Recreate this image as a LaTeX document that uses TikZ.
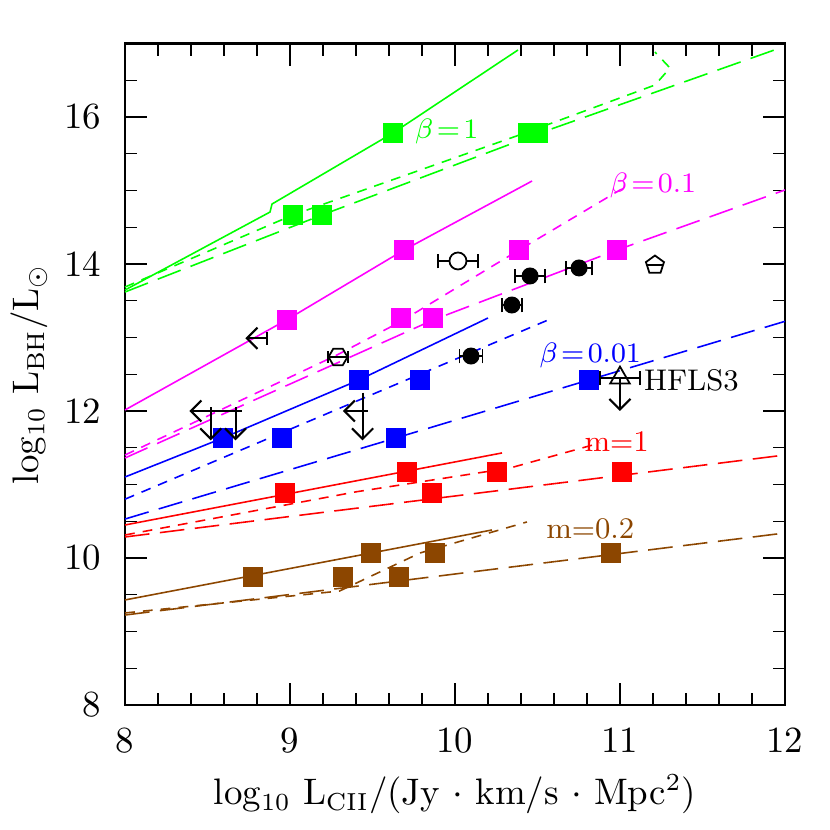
\documentclass[tikz,border=0pt]{standalone}
\usepackage{amsmath,amssymb}
\usepackage{xcolor}
\usepackage{tikz}
\usetikzlibrary{shapes.geometric, arrows.meta}
\definecolor{PlotGreen}{RGB}{0, 255, 0}
\definecolor{PlotMagenta}{RGB}{255, 0, 255}
\definecolor{PlotBlue}{RGB}{0, 0, 255}
\definecolor{PlotRed}{RGB}{255, 0, 0}
\definecolor{PlotBrown}{RGB}{140, 70, 0}

\begin{document}
\begin{tikzpicture}[
    x=1.65cm, y=0.735cm,
    font=\fontsize{10.5}{12.5}\selectfont,
    sq/.style={rectangle, fill=#1, inner sep=0pt, minimum size=0.2cm},
    sqw/.style={rectangle, fill=#1, inner sep=0pt, minimum width=0.3cm, minimum height=0.2cm},
    solidline/.style={#1, line width=0.45pt},
    shortdash/.style={#1, line width=0.45pt, dash pattern=on 2.8pt off 2.3pt},
    longdash/.style={#1, line width=0.45pt, dash pattern=on 7pt off 3pt},
    errbar/.style={black, line width=0.5pt},
    limit/.style={black, line width=0.6pt, -{Straight Barb[length=3pt, width=6pt]}},
    lbl/.style={font=\fontsize{8.5}{10}\selectfont, inner sep=1pt}
]
    \useasboundingbox (7.2424,6.299) rectangle (12.273,17.592);
    % frame and ticks
    \draw[line width=0.6pt] (8,8) rectangle (12,17);
    \foreach \t in {8.2,8.4,...,11.9} {
        \draw (\t,8) -- ++(0,0.12cm);
        \draw (\t,17) -- ++(0,-0.12cm);
    }
    \foreach \t in {9,10,11} {
        \draw (\t,8) -- ++(0,0.22cm);
        \draw (\t,17) -- ++(0,-0.22cm);
    }
    \foreach \t in {8.5,9,...,16.5} {
        \draw (8,\t) -- ++(0.12cm,0);
        \draw (12,\t) -- ++(-0.12cm,0);
    }
    \foreach \t in {10,12,14,16} {
        \draw (8,\t) -- ++(0.22cm,0);
        \draw (12,\t) -- ++(-0.22cm,0);
    }
    \foreach \t in {8,9,10,11,12} { \node[anchor=north] (xt\t) at (\t,7.85) {\t}; }
    \foreach \t in {8,10,12,14,16} { \node[anchor=east] (yt\t) at (7.93,\t) {\t}; }
    \node (xlab) at (10,6.78) {log$_{10}$ L$_{\text{\fontsize{7}{8}\selectfont CII}}$/(Jy $\cdot$ km/s $\cdot$ Mpc$^2$)};
    \node[rotate=90] (ylab) at (7.42,12.5) {log$_{10}$ L$_{\text{\fontsize{7}{8}\selectfont BH}}$/L$_\odot$};

    % beta=1
    \draw[solidline=PlotGreen] (8,13.646) -- (8.879,14.707) -- (8.891,14.816) -- (9.624,15.782) -- (10.382,16.912);
    \draw[shortdash=PlotGreen] (8,13.687) -- (9.018,14.667) -- (10.424,15.782) -- (11.212,16.435) -- (11.303,16.667) -- (11.212,16.884);
    \draw[longdash=PlotGreen] (8,13.619) -- (9.194,14.667) -- (10.515,15.782) -- (11.97,16.939);
    \node[sq=PlotGreen] (g1) at (9.018,14.667) {};
    \node[sq=PlotGreen] (g2) at (9.194,14.667) {};
    \node[sq=PlotGreen] (g3) at (9.624,15.782) {};
    \node[sqw=PlotGreen] (g4) at (10.47,15.782) {};
    \node[lbl, text=PlotGreen] (lg) at (9.95,15.8) {$\beta\!=\!1$};

    % beta=0.1
    \draw[solidline=PlotMagenta] (8,12.014) -- (8.98,13.24) -- (9.691,14.19) -- (10.467,15.129);
    \draw[shortdash=PlotMagenta] (8,11.401) -- (9.285,12.762) -- (9.667,13.211) -- (10.388,14.19) -- (11.0,15.007) -- (11.05,15.05);
    \draw[longdash=PlotMagenta] (8,11.361) -- (9.867,13.238) -- (10.982,14.19) -- (12,15.007);
    \foreach \px/\py [count=\i] in {8.98/13.24, 9.691/14.19, 9.673/13.265, 9.867/13.265, 10.388/14.19, 10.982/14.19} {
        \node[sq=PlotMagenta] (m\i) at (\px,\py) {};
    }
    \node[lbl, text=PlotMagenta] (lm) at (11.2,15.07) {$\beta\!=\!0.1$};

    % beta=0.01
    \draw[solidline=PlotBlue] (8,11.102) -- (8.594,11.633) -- (9.418,12.422) -- (10.2,13.265);
    \draw[shortdash=PlotBlue] (8,10.8) -- (10.564,13.238);
    \draw[longdash=PlotBlue] (8,10.53) -- (9.642,11.633) -- (10.812,12.422) -- (12,13.22);
    \foreach \px/\py [count=\i] in {8.594/11.633, 8.952/11.633, 9.418/12.422, 9.788/12.422, 9.642/11.633, 10.812/12.422} {
        \node[sq=PlotBlue] (b\i) at (\px,\py) {};
    }
    \node[lbl, text=PlotBlue] (lb) at (10.82,12.75) {$\beta\!=\!0.01$};

    % m=1
    \draw[solidline=PlotRed] (8,10.449) -- (10.285,11.429);
    \draw[shortdash=PlotRed] (8,10.313) -- (9.4,10.9) -- (10.333,11.224) -- (10.879,11.565);
    \draw[longdash=PlotRed] (8,10.286) -- (12,11.401);
    \foreach \px/\py [count=\i] in {8.97/10.884, 9.709/11.17, 9.861/10.884, 10.255/11.17, 11.012/11.17} {
        \node[sq=PlotRed] (r\i) at (\px,\py) {};
    }
    \node[lbl, text=PlotRed] (lr) at (10.98,11.58) {m$=$1};

    % m=0.2
    \draw[solidline=PlotBrown] (8,9.429) -- (10.224,10.381);
    \draw[shortdash=PlotBrown] (8,9.252) -- (9.3,9.55) -- (9.788,10.068) -- (10.436,10.49);
    \draw[longdash=PlotBrown] (8,9.224) -- (12,10.34);
    \foreach \px/\py [count=\i] in {8.776/9.741, 9.321/9.741, 9.491/10.068, 9.661/9.741, 9.879/10.068, 10.945/10.068} {
        \node[sq=PlotBrown] (n\i) at (\px,\py) {};
    }
    \node[lbl, text=PlotBrown] (ln) at (10.82,10.4) {m$=$0.2};

    % observations
    \foreach \px/\py/\dx in {10.018/14.041/0.12, 10.455/13.837/0.09, 10.345/13.442/0.06, 10.097/12.748/0.07, 10.752/13.946/0.08} {
        \draw[errbar] (\px-\dx,\py) -- (\px+\dx,\py);
        \draw[errbar] (\px-\dx,\py-0.1) -- (\px-\dx,\py+0.1);
        \draw[errbar] (\px+\dx,\py-0.1) -- (\px+\dx,\py+0.1);
    }
    \draw[errbar, fill=white] (10.018,14.041) circle (0.085cm);
    \foreach \px/\py [count=\i] in {10.455/13.837, 10.345/13.442, 10.097/12.748, 10.752/13.946} {
        \fill (\px,\py) circle (0.085cm);
    }
    \node[regular polygon, regular polygon sides=5, draw, line width=0.5pt, inner sep=0pt, minimum size=0.19cm] (pent) at (11.212,13.986) {};
    \draw[errbar] (11.16,13.986) -- (11.26,13.986);
    \node[regular polygon, regular polygon sides=6, draw, line width=0.5pt, inner sep=0pt, minimum size=0.19cm] (hexa) at (9.291,12.735) {};
    \draw[errbar] (9.23,12.735) -- (9.35,12.735);
    \draw[errbar] (9.23,12.65) -- (9.23,12.82);
    \draw[errbar] (9.35,12.65) -- (9.35,12.82);
    % upper limits
    \draw[errbar] (8.86,12.9) -- (8.86,13.08);
    \draw[limit] (8.86,12.99) -- (8.73,12.99);
    \draw[errbar] (8.40,12.0) -- (8.71,12.0);
    \draw[limit] (8.55,12.0) -- (8.39,12.0);
    \draw[limit] (8.52,12.05) -- (8.52,11.6);
    \draw[limit] (8.67,12.05) -- (8.67,11.6);
    \draw[errbar] (9.34,12.0) -- (9.47,12.0);
    \draw[limit] (9.44,12.0) -- (9.32,12.0);
    \draw[limit] (9.44,12.25) -- (9.44,11.6);
    % HFLS3
    \node[isosceles triangle, isosceles triangle apex angle=60, shape border rotate=90, draw, line width=0.5pt, inner sep=0pt, minimum size=0.17cm] (tri) at (11.0,12.45) {};
    \draw[errbar] (10.88,12.45) -- (11.12,12.45);
    \draw[errbar] (10.88,12.35) -- (10.88,12.55);
    \draw[errbar] (11.12,12.35) -- (11.12,12.55);
    \draw[limit] (11.0,12.45) -- (11.0,12.0);
    \node[anchor=west, lbl] (hfls) at (11.12,12.42) {HFLS3};
\end{tikzpicture}
\end{document}
